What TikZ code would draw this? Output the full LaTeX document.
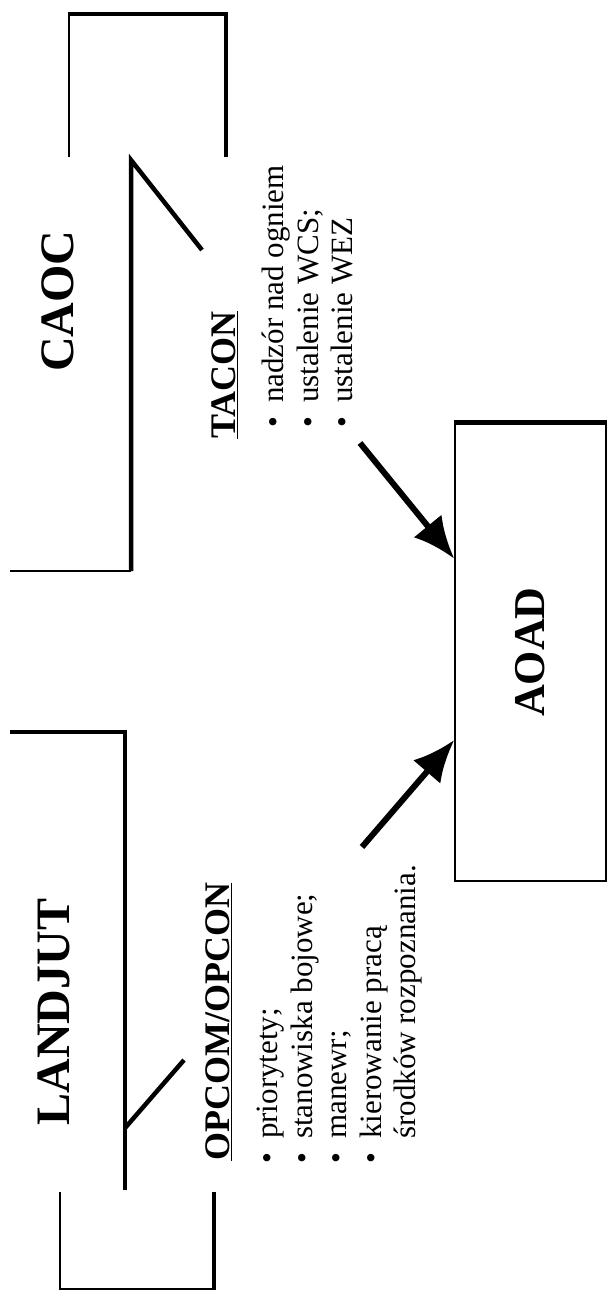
\documentclass[tikz,border=0pt]{standalone}
\usepackage{fontspec}
\setmainfont{Liberation Serif}
\usetikzlibrary{arrows.meta}

\newcommand{\punkt}{\makebox[25pt][l]{\textbullet}}

\begin{document}
\begin{tikzpicture}[
    x=1pt, y=-1pt,
    heavy/.style={line width=4.5pt},
    light/.style={line width=1.4pt},
    title/.style={rotate=90, inner sep=0pt, font=\bfseries\fontsize{48}{48}\selectfont},
    head/.style={rotate=90, inner sep=0pt, anchor=north west, font=\bfseries\fontsize{36}{36}\selectfont},
    items/.style={rotate=90, inner sep=0pt, anchor=north west, align=left, font=\fontsize{31}{34.5}\selectfont},
    arrow/.style={-{Latex[length=42pt, width=36pt]}, line width=6pt},
]
    \useasboundingbox (0,0) rectangle (607,1293);

    % CAOC
    \draw[light] (69,157) -- (69,14);
    \draw[heavy] (67.5,14) -- (226,14) -- (226,157);
    \draw[heavy] (202,250) -- (131,160) -- (131,571);
    \draw[light] (10,571) -- (131,571);
    \node[title] (caoc) at (58,301) {CAOC};

    % LANDJUT
    \draw[heavy] (10,732) -- (125,732) -- (125,1190);
    \draw[heavy] (125,1128) -- (184,1060);
    \draw[light] (60,1192) -- (60,1289) -- (214,1289);
    \draw[heavy] (214,1192) -- (214,1290);
    \node[title] (landjut) at (53.5,1012) {LANDJUT};

    % AOAD
    \node[draw, light, rotate=90, minimum width=458pt, minimum height=151pt, inner sep=0pt,
          font=\bfseries\fontsize{44}{44}\selectfont] (aoad) at (530.5,652) {AOAD};
    \draw[heavy] (aoad.north east) -- (aoad.south east);

    % opisy
    \node[head] (tacon) at (211,439) {\underline{TACON}};
    \node[items] (taconlist) at (262,428) {\punkt nadzór nad ogniem\\
        \punkt ustalenie WCS;\\
        \punkt ustalenie WEZ};

    \node[head] (opcom) at (205,1161) {\underline{OPCOM/OPCON}};
    \node[items] (opcomlist) at (257,1164) {\punkt priorytety;\\
        \punkt stanowiska bojowe;\\
        \punkt manewr;\\
        \punkt kierowanie pracą\\
        \hspace*{25pt}środków rozpoznania.};

    \coordinate (tacarr) at (360,443);
    \coordinate (oparr) at (362,847);
    \draw[arrow] (tacarr) -- (aoad);
    \draw[arrow] (oparr) -- (aoad);
\end{tikzpicture}
\end{document}
